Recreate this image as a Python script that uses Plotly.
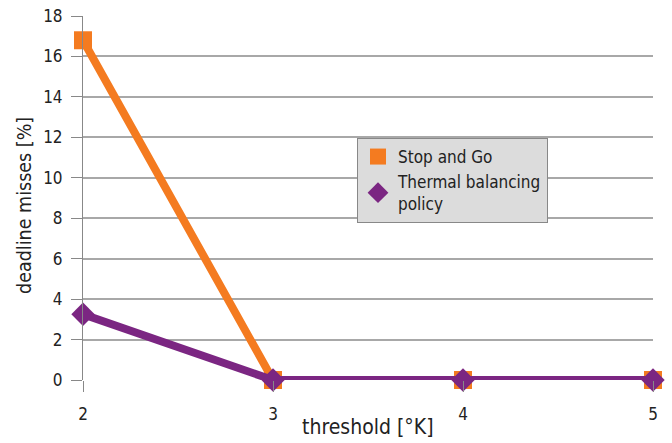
import plotly.graph_objects as go

thresholds = [2, 3, 4, 5]
stop_and_go = [16.8, 0, 0, 0]
thermal_balancing = [3.25, 0, 0, 0]
y_ticks = [0, 2, 4, 6, 8, 10, 12, 14, 16, 18]

ORANGE = "#f47b20"
PURPLE = "#7b2682"
FONT = "DejaVu Sans Condensed, DejaVu Sans"

L, R, T, B = 83, 19, 16, 63
PW, PH = 672 - L - R, 443 - T - B

fig = go.Figure()
fig.add_trace(go.Scatter(
    x=thresholds, y=stop_and_go, mode="lines+markers", showlegend=False,
    line=dict(color=ORANGE, width=8),
    marker=dict(symbol="square", size=18, color=ORANGE),
    cliponaxis=False,
))
fig.add_trace(go.Scatter(
    x=thresholds, y=thermal_balancing, mode="lines+markers", showlegend=False,
    line=dict(color=PURPLE, width=8),
    marker=dict(symbol="diamond", size=18, color=PURPLE),
    cliponaxis=False,
))
# legend entries (marker only)
fig.add_trace(go.Scatter(
    x=[None], y=[None], mode="markers", name="Stop and Go",
    marker=dict(symbol="square", size=16, color=ORANGE),
))
fig.add_trace(go.Scatter(
    x=[None], y=[None], mode="markers", name="Thermal balancing<br>policy",
    marker=dict(symbol="diamond", size=16, color=PURPLE),
))

fig.update_layout(
    width=672, height=443,
    margin=dict(l=L, r=R, t=T, b=B),
    plot_bgcolor="white", paper_bgcolor="white",
    font=dict(family=FONT, size=17, color="#222222"),
    legend=dict(
        x=(357 - L) / PW, y=1 - (138 - T) / PH, xanchor="left", yanchor="top",
        bgcolor="#dcdcdc", bordercolor="#888888", borderwidth=1,
        font=dict(size=17), tracegroupgap=0, itemwidth=30,
    ),
    xaxis=dict(
        range=[2, 5], tickvals=thresholds, ticks="outside", ticklen=11,
        tickcolor="#888888", tickwidth=1, showgrid=False, zeroline=False,
        showline=False, automargin=False, ticklabelstandoff=8,
    ),
    yaxis=dict(
        range=[0, 18], tickvals=y_ticks, ticks="outside", ticklen=11,
        tickcolor="#888888", showgrid=True, gridcolor="#a8a8a8", gridwidth=2,
        zeroline=False, showline=True, linecolor="#888888", linewidth=1,
        automargin=False, ticklabelstandoff=5,
    ),
    annotations=[
        dict(text="threshold [°K]", xref="paper", yref="paper",
             x=0.5, y=-(441 - (T + PH)) / PH, xanchor="center",
             yanchor="bottom", showarrow=False, font=dict(size=21)),
        dict(text="deadline misses [%]", xref="paper", yref="paper",
             x=(25 - L) / PW, y=((T + PH) - 206) / PH, xanchor="center",
             yanchor="middle", textangle=-90, showarrow=False,
             font=dict(size=19.5)),
    ],
)

fig.write_html("out.html", config={"displayModeBar": False},
               post_script="document.body.style.margin='0px';")
